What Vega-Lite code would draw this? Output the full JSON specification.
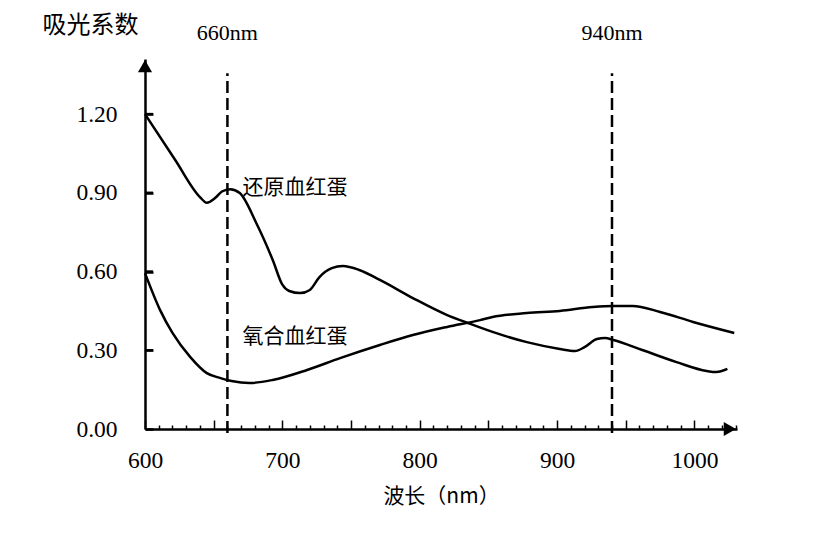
{
  "$schema": "https://vega.github.io/schema/vega-lite/v6.json",
  "width": 592,
  "height": 370,
  "autosize": "none",
  "padding": {"left": 145, "top": 59, "right": 95, "bottom": 112},
  "background": "white",
  "config": {
    "view": {"stroke": null},
    "font": "Liberation Serif",
    "axis": {
      "grid": false, "domainColor": "black", "domainWidth": 2.5,
      "tickColor": "black", "labelColor": "black", "labelFont": "Liberation Serif",
      "labelFontSize": 23.5, "labelFlush": false, "labelOverlap": false,
      "titleColor": "black", "titleFontWeight": "normal", "titleFont": "Noto Sans CJK SC"
    }
  },
  "resolve": {"axis": {"x": "independent", "y": "independent"}},
  "datasets": {
    "curves": [
      {"series": "还原血红蛋白", "nm": 600, "a": 1.2},
      {"series": "还原血红蛋白", "nm": 622, "a": 1.025},
      {"series": "还原血红蛋白", "nm": 640, "a": 0.884},
      {"series": "还原血红蛋白", "nm": 645, "a": 0.862},
      {"series": "还原血红蛋白", "nm": 651, "a": 0.88},
      {"series": "还原血红蛋白", "nm": 656, "a": 0.905},
      {"series": "还原血红蛋白", "nm": 662, "a": 0.914},
      {"series": "还原血红蛋白", "nm": 669, "a": 0.899},
      {"series": "还原血红蛋白", "nm": 681, "a": 0.785},
      {"series": "还原血红蛋白", "nm": 693, "a": 0.644},
      {"series": "还原血红蛋白", "nm": 700, "a": 0.55},
      {"series": "还原血红蛋白", "nm": 705, "a": 0.526},
      {"series": "还原血红蛋白", "nm": 713, "a": 0.518},
      {"series": "还原血红蛋白", "nm": 720, "a": 0.53},
      {"series": "还原血红蛋白", "nm": 727, "a": 0.579},
      {"series": "还原血红蛋白", "nm": 736, "a": 0.613},
      {"series": "还原血红蛋白", "nm": 744, "a": 0.621},
      {"series": "还原血红蛋白", "nm": 756, "a": 0.606},
      {"series": "还原血红蛋白", "nm": 771, "a": 0.568},
      {"series": "还原血红蛋白", "nm": 795, "a": 0.499},
      {"series": "还原血红蛋白", "nm": 820, "a": 0.434},
      {"series": "还原血红蛋白", "nm": 835, "a": 0.404},
      {"series": "还原血红蛋白", "nm": 853, "a": 0.37},
      {"series": "还原血红蛋白", "nm": 878, "a": 0.331},
      {"series": "还原血红蛋白", "nm": 902, "a": 0.305},
      {"series": "还原血红蛋白", "nm": 913, "a": 0.297},
      {"series": "还原血红蛋白", "nm": 920, "a": 0.312},
      {"series": "还原血红蛋白", "nm": 929, "a": 0.343},
      {"series": "还原血红蛋白", "nm": 935, "a": 0.347},
      {"series": "还原血红蛋白", "nm": 941, "a": 0.339},
      {"series": "还原血红蛋白", "nm": 962, "a": 0.301},
      {"series": "还原血红蛋白", "nm": 987, "a": 0.255},
      {"series": "还原血红蛋白", "nm": 1009, "a": 0.221},
      {"series": "还原血红蛋白", "nm": 1016, "a": 0.217},
      {"series": "还原血红蛋白", "nm": 1024, "a": 0.229},
      {"series": "氧合血红蛋白", "nm": 600, "a": 0.594},
      {"series": "氧合血红蛋白", "nm": 611, "a": 0.453},
      {"series": "氧合血红蛋白", "nm": 620, "a": 0.366},
      {"series": "氧合血红蛋白", "nm": 633, "a": 0.274},
      {"series": "氧合血红蛋白", "nm": 645, "a": 0.213},
      {"series": "氧合血红蛋白", "nm": 655, "a": 0.194},
      {"series": "氧合血红蛋白", "nm": 663, "a": 0.183},
      {"series": "氧合血红蛋白", "nm": 676, "a": 0.175},
      {"series": "氧合血红蛋白", "nm": 693, "a": 0.187},
      {"series": "氧合血红蛋白", "nm": 718, "a": 0.225},
      {"series": "氧合血红蛋白", "nm": 742, "a": 0.27},
      {"series": "氧合血红蛋白", "nm": 771, "a": 0.32},
      {"series": "氧合血红蛋白", "nm": 795, "a": 0.358},
      {"series": "氧合血红蛋白", "nm": 820, "a": 0.389},
      {"series": "氧合血红蛋白", "nm": 844, "a": 0.415},
      {"series": "氧合血红蛋白", "nm": 853, "a": 0.427},
      {"series": "氧合血红蛋白", "nm": 878, "a": 0.442},
      {"series": "氧合血红蛋白", "nm": 902, "a": 0.45},
      {"series": "氧合血红蛋白", "nm": 926, "a": 0.465},
      {"series": "氧合血红蛋白", "nm": 941, "a": 0.469},
      {"series": "氧合血红蛋白", "nm": 955, "a": 0.469},
      {"series": "氧合血红蛋白", "nm": 975, "a": 0.446},
      {"series": "氧合血红蛋白", "nm": 999, "a": 0.408},
      {"series": "氧合血红蛋白", "nm": 1029, "a": 0.366}
    ],
    "markers": [
      {"nm": 660, "label": "660nm"},
      {"nm": 940, "label": "940nm"}
    ],
    "notes": [
      {"nm": 671, "a": 0.918, "text": "还原血红蛋"},
      {"nm": 671, "a": 0.35, "text": "氧合血红蛋"}
    ],
    "yticks": [
      {"v": 0.3}, {"v": 0.6}, {"v": 0.9}, {"v": 1.2}
    ]
  },
  "layer": [
    {
      "data": {"name": "curves"},
      "mark": {"type": "line", "color": "black", "strokeWidth": 2.5, "interpolate": "monotone"},
      "encoding": {
        "x": {
          "field": "nm", "type": "quantitative",
          "scale": {"domain": [600, 1031], "nice": false, "zero": false},
          "axis": {
            "orient": "bottom",
            "values": [600,610,620,630,640,650,660,670,680,690,700,710,720,730,740,750,760,770,780,790,800,810,820,830,840,850,860,870,880,890,900,910,920,930,940,950,960,970,980,990,1000,1010,1020,1030],
            "tickSize": {"condition": {"test": "datum.value % 50 === 0", "value": -9}, "value": -4},
            "tickWidth": 1.5,
            "labelExpr": "datum.value % 100 === 0 ? format(datum.value, 'd') : ''",
            "labelPadding": 28,
            "title": "波长（nm）", "titleFontSize": 21, "titlePadding": 9
          }
        },
        "y": {
          "field": "a", "type": "quantitative",
          "scale": {"domain": [0, 1.41], "nice": false, "zero": false},
          "axis": {
            "orient": "left",
            "values": [0, 0.3, 0.6, 0.9, 1.2],
            "format": ".2f",
            "tickSize": {"condition": {"test": "datum.value > 0.01", "value": -8}, "value": -8},
            "tickWidth": 2.5,
            "labelPadding": 36,
            "title": "吸光系数", "titleFontSize": 24,
            "titleAngle": 0, "titleAlign": "left", "titleBaseline": "middle",
            "titleX": -103, "titleY": -34
          }
        },
        "detail": {"field": "series"}
      }
    },
    {
      "data": {"name": "yticks"},
      "mark": {"type": "tick", "orient": "horizontal", "color": "black", "size": 8, "thickness": 2.5, "opacity": 1},
      "encoding": {
        "x": {"datum": 602.9, "axis": null},
        "y": {"field": "v", "type": "quantitative", "axis": null}
      }
    },
    {
      "data": {"name": "markers"},
      "mark": {"type": "rule", "color": "black", "strokeWidth": 2.5, "strokeDash": [12, 5]},
      "encoding": {
        "x": {"field": "nm", "type": "quantitative", "axis": null},
        "y": {"datum": -0.015, "axis": null},
        "y2": {"datum": 1.356}
      }
    },
    {
      "data": {"name": "markers"},
      "mark": {"type": "text", "font": "Liberation Serif", "fontSize": 22, "color": "black", "align": "center", "baseline": "middle"},
      "encoding": {
        "x": {"field": "nm", "type": "quantitative", "axis": null},
        "y": {"datum": 1.509, "axis": null},
        "text": {"field": "label"}
      }
    },
    {
      "data": {"name": "notes"},
      "mark": {"type": "text", "font": "Noto Sans CJK SC", "fontSize": 21, "color": "black", "align": "left", "baseline": "middle"},
      "encoding": {
        "x": {"field": "nm", "type": "quantitative", "axis": null},
        "y": {"field": "a", "type": "quantitative", "axis": null},
        "text": {"field": "text"}
      }
    },
    {
      "data": {"values": [{}]},
      "mark": {"type": "point", "shape": "triangle-up", "filled": true, "color": "black", "size": 200, "opacity": 1},
      "encoding": {
        "x": {"datum": 600, "axis": null},
        "y": {"datum": 1.383, "axis": null}
      }
    },
    {
      "data": {"values": [{}]},
      "mark": {"type": "point", "shape": "triangle-right", "filled": true, "color": "black", "size": 200, "opacity": 1},
      "encoding": {
        "x": {"datum": 1025.8, "axis": null},
        "y": {"datum": 0, "axis": null}
      }
    }
  ]
}
